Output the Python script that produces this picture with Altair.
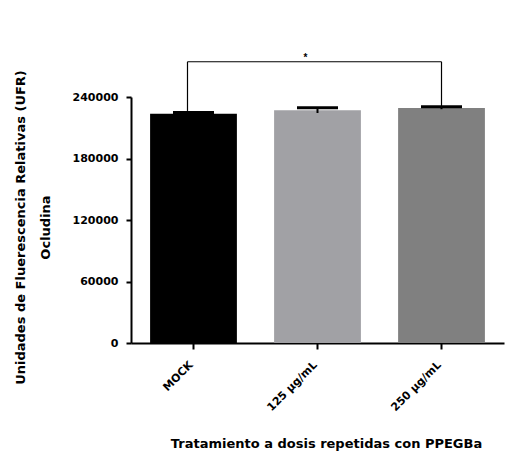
import altair as alt
import pandas as pd

categories = ["MOCK", "125 µg/mL", "250 µg/mL"]
means = [223700, 227000, 229300]
sems = [1200, 2600, 1200]
colors = ["#000000", "#a1a1a5", "#808080"]
y_ticks = [0, 60000, 120000, 180000, 240000]
bracket_level = [274400]
bracket_ends = ["MOCK", "250 µg/mL"]
leg_bottoms = [226400, 230300]
star_text = ["*"]

FONT = "DejaVu Sans"
X_TITLE = "Tratamiento a dosis repetidas con PPEGBa"
Y_TITLE = ["Unidades de Fluerescencia Relativas (UFR)", "Ocludina"]

df = pd.DataFrame({"cat": categories, "mean": means, "sem": sems})
df["lo"] = df["mean"] - df["sem"]
df["hi"] = df["mean"] + df["sem"]

xscale = alt.Scale(domain=categories, paddingInner=0.30, paddingOuter=0.154)
yscale = alt.Scale(domain=[0, 240000], nice=False, zero=True)

xaxis = alt.Axis(labelAngle=-45, labelAlign="right", labelBaseline="middle",
                 labelPadding=14, labelOffset=-2, tickSize=6, titleX=195, titleY=100,
                 titleBaseline="middle", titleAlign="center")
yaxis = alt.Axis(values=y_ticks, format="d", tickSize=5, labelPadding=8,
                 titleX=-111, titleY=130, titleAngle=-90,
                 titleBaseline="middle", titleAlign="center",
                 titleLineHeight=25)


def X(field):
    return alt.X(field, scale=xscale, sort=categories, title=X_TITLE, axis=xaxis)


def Y(field):
    return alt.Y(field, scale=yscale, title=Y_TITLE, axis=yaxis)


bars = alt.Chart(df).mark_bar().encode(
    x=X("cat:N"),
    y=Y("mean:Q"),
    color=alt.Color("cat:N", scale=alt.Scale(domain=categories, range=colors), legend=None),
)

stems = alt.Chart(df).mark_rule(color="black", strokeWidth=2).encode(
    x=X("cat:N"),
    y=Y("lo:Q"),
    y2="hi:Q",
)

caps = alt.Chart(df).mark_tick(color="black", thickness=3, size=41, opacity=1).encode(
    x=X("cat:N"),
    y=Y("hi:Q"),
)

bdf = pd.DataFrame({"cat": [bracket_ends[0]], "b": [bracket_ends[1]], "lvl": bracket_level})
top_line = alt.Chart(bdf).mark_rule(color="black", strokeWidth=1.2, xOffset=-6, x2Offset=0).encode(
    x=X("cat:N"),
    x2="b:N",
    y=Y("lvl:Q"),
)

ldf = pd.DataFrame({"cat": bracket_ends, "top": bracket_level * 2, "bottom": leg_bottoms})
left_leg = alt.Chart(ldf).transform_filter(alt.datum.cat == bracket_ends[0]).mark_rule(
    color="black", strokeWidth=1.2, xOffset=-6).encode(
    x=X("cat:N"),
    y=Y("top:Q"),
    y2="bottom:Q",
)
right_leg = alt.Chart(ldf).transform_filter(alt.datum.cat == bracket_ends[1]).mark_rule(
    color="black", strokeWidth=1.2).encode(
    x=X("cat:N"),
    y=Y("top:Q"),
    y2="bottom:Q",
)

sdf = pd.DataFrame({"cat": [categories[1]], "lvl": bracket_level, "t": star_text})
star = alt.Chart(sdf).mark_text(font="Liberation Sans", fontSize=10, fontWeight="bold", dx=-12, dy=-1,
                                baseline="alphabetic", color="black").encode(
    x=X("cat:N"),
    y=Y("lvl:Q"),
    text="t:N",
)

chart = alt.layer(bars, stems, caps, top_line, left_leg, right_leg, star).properties(
    width=373, height=246,
    autosize=alt.AutoSizeParams(type="none"),
    padding={"left": 123, "top": 89, "right": 15, "bottom": 111},
).configure_view(stroke=None).configure_axis(
    grid=False,
    domainColor="black", domainWidth=2,
    tickColor="black", tickWidth=2,
    labelFont=FONT, labelFontSize=11, labelFontWeight="bold", labelColor="black",
    titleFont=FONT, titleFontSize=13, titleFontWeight="bold", titleColor="black",
)

chart.save("out.html", embed_options={"renderer": "svg", "actions": False})
